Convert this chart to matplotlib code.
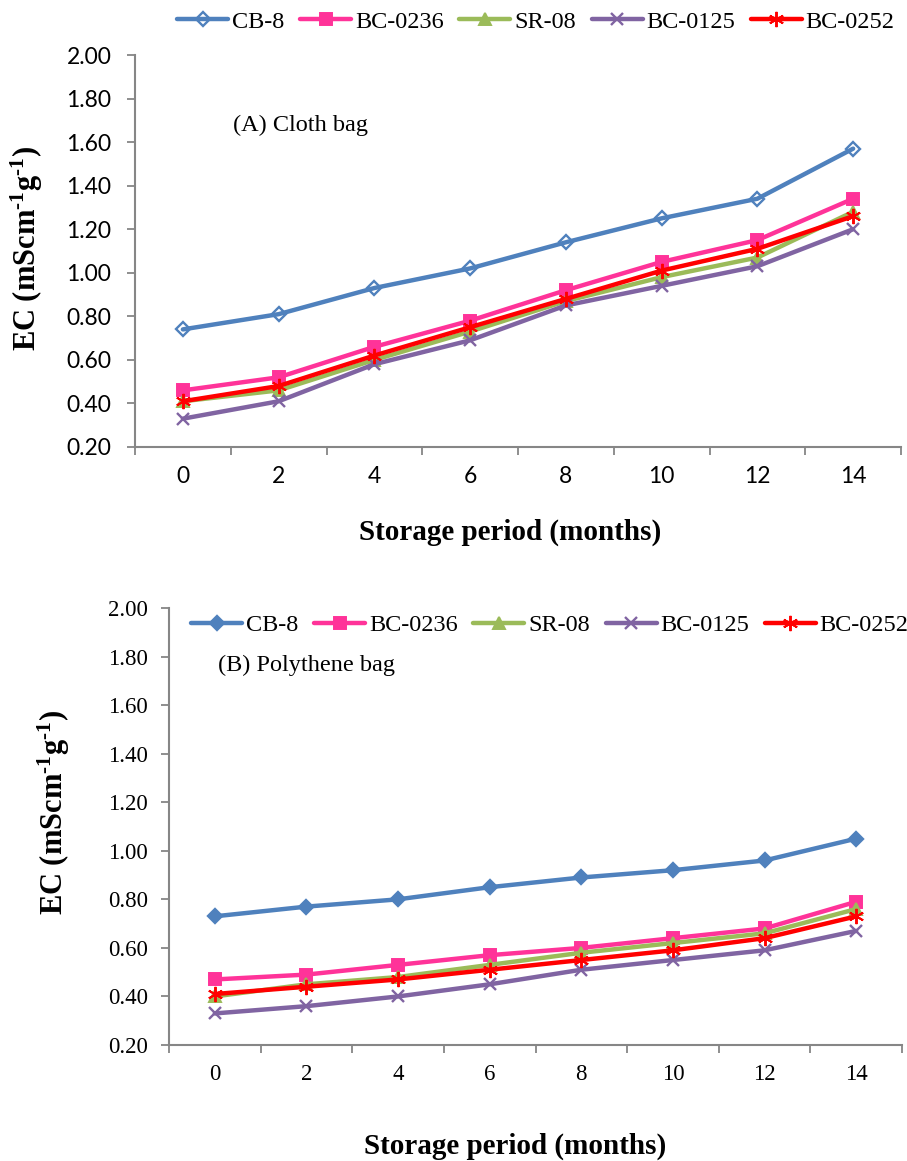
import numpy as np
import matplotlib
matplotlib.use("Agg")
import matplotlib.pyplot as plt
from matplotlib.legend_handler import HandlerTuple

# ---------------- data ----------------
months = [0, 2, 4, 6, 8, 10, 12, 14]
series_names = ["CB-8", "BC-0236", "SR-08", "BC-0125", "BC-0252"]

cloth_cb8 = [0.74, 0.81, 0.93, 1.02, 1.14, 1.25, 1.34, 1.57]
cloth_bc0236 = [0.46, 0.52, 0.66, 0.78, 0.92, 1.05, 1.15, 1.34]
cloth_sr08 = [0.41, 0.46, 0.60, 0.73, 0.87, 0.98, 1.07, 1.28]
cloth_bc0125 = [0.33, 0.41, 0.58, 0.69, 0.85, 0.94, 1.03, 1.20]
cloth_bc0252 = [0.41, 0.48, 0.62, 0.75, 0.88, 1.01, 1.11, 1.26]

poly_cb8 = [0.73, 0.77, 0.80, 0.85, 0.89, 0.92, 0.96, 1.05]
poly_bc0236 = [0.47, 0.49, 0.53, 0.57, 0.60, 0.64, 0.68, 0.79]
poly_sr08 = [0.40, 0.45, 0.48, 0.53, 0.58, 0.62, 0.66, 0.76]
poly_bc0125 = [0.33, 0.36, 0.40, 0.45, 0.51, 0.55, 0.59, 0.67]
poly_bc0252 = [0.41, 0.44, 0.47, 0.51, 0.55, 0.59, 0.64, 0.73]

panel_titles = ["(A) Cloth bag", "(B) Polythene bag"]
x_label = "Storage period (months)"
y_label = "EC (mScm$^{\u20101}$g$^{\u20101}$)"

# ---------------- style ----------------
colors = ["#4F81BD", "#FF3399", "#9BBB59", "#8064A2", "#FF0000"]
markers = ["D", "s", "^", "x", (6, 2, 0)]
msizes = [7.5, 8, 8.5, 9, 11]
axis_gray = "#868686"
SERIF = "Liberation Serif"
SANS = "Lato"

plt.rcParams["mathtext.fontset"] = "custom"
plt.rcParams["mathtext.rm"] = "Liberation Serif:bold"
plt.rcParams["mathtext.it"] = "Liberation Serif:italic:bold"
plt.rcParams["mathtext.bf"] = "Liberation Serif:bold"

W, H = 907, 1161
fig = plt.figure(figsize=(W / 100, H / 100), dpi=100)


def fx(px):
    return px / W


def fy(py):
    return 1 - py / H


def make_axes(rect_px, tick_font, xpad, ypad):
    l, t, r, b = rect_px
    ax = fig.add_axes([fx(l), fy(b), (r - l) / W, (b - t) / H])
    ax.set_xlim(-0.5, len(months) - 0.5)
    ax.set_ylim(0.2, 2.0)
    yt = np.arange(0.2, 2.001, 0.2)
    ax.set_yticks(yt)
    ax.set_yticklabels([f"{v:.2f}" for v in yt])
    ax.set_xticks(np.arange(len(months)))
    ax.set_xticklabels([str(m) for m in months])
    ax.set_xticks(np.arange(-0.5, len(months)), minor=True)
    ax.tick_params(axis="x", which="major", length=0, pad=xpad)
    ax.tick_params(axis="x", which="minor", length=6, width=1.3,
                   color=axis_gray, direction="out")
    ax.tick_params(axis="y", which="major", length=6, width=1.3,
                   color=axis_gray, direction="out", pad=ypad)
    for lab in ax.get_xticklabels() + ax.get_yticklabels():
        lab.set_fontfamily(tick_font)
        lab.set_fontsize(16.5)
        lab.set_color("black")
    for s in ["top", "right"]:
        ax.spines[s].set_visible(False)
    for s in ["left", "bottom"]:
        ax.spines[s].set_color(axis_gray)
        ax.spines[s].set_linewidth(1.5)
    return ax


def draw(ax, data, hollow_first):
    x = np.arange(len(months))
    handles = []
    for i, (name, vals) in enumerate(zip(series_names, data)):
        face = "white" if (i == 0 and hollow_first) else colors[i]
        mew = 1.7 if i in (0, 3) else 1.4
        # markers first, line drawn over them (as in the original chart)
        hm, = ax.plot(x, vals, linestyle="none", marker=markers[i],
                      ms=msizes[i], mfc=face, mec=colors[i], mew=mew,
                      zorder=3 + i, clip_on=False)
        hl, = ax.plot(x, vals, color=colors[i], lw=3.2, zorder=3.5 + i,
                      solid_capstyle="round", solid_joinstyle="round",
                      clip_on=False)
        handles.append((hm, hl))
    return handles


# Panel A
axA = make_axes((135, 55, 901, 447), SANS, 14, 11)
hA = draw(axA, [cloth_cb8, cloth_bc0236, cloth_sr08, cloth_bc0125, cloth_bc0252], True)

# Panel B
axB = make_axes((169, 608, 902, 1045), SERIF, 14, 9)
hB = draw(axB, [poly_cb8, poly_bc0236, poly_sr08, poly_bc0125, poly_bc0252], False)

leg_kw = dict(loc="center", ncol=5, frameon=False,
              prop={"family": SERIF, "size": 17.5},
              handlelength=2.1, handletextpad=0.15, columnspacing=0.65,
              borderaxespad=0, borderpad=0,
              handler_map={tuple: HandlerTuple(ndivide=1, pad=0)})
fig.legend(handles=hA, labels=series_names,
           bbox_to_anchor=(fx(536), fy(22)), **leg_kw)
fig.legend(handles=hB, labels=series_names,
           bbox_to_anchor=(fx(550), fy(625)), **leg_kw)

# panel titles
fig.text(fx(233), fy(125), panel_titles[0], family=SERIF, fontsize=17.5,
         ha="left", va="center")
fig.text(fx(218), fy(665), panel_titles[1], family=SERIF, fontsize=17.5,
         ha="left", va="center")

# axis labels
for (xc, yc) in [(27, 248), (54, 812)]:
    fig.text(fx(xc), fy(yc), y_label, family=SERIF, weight="bold",
             fontsize=22, rotation=90, ha="center", va="center")
for (xc, yc) in [(510, 532), (515, 1146)]:
    fig.text(fx(xc), fy(yc), x_label, family=SERIF, weight="bold",
             fontsize=21, ha="center", va="center")

fig.savefig("out.png", dpi=100)
